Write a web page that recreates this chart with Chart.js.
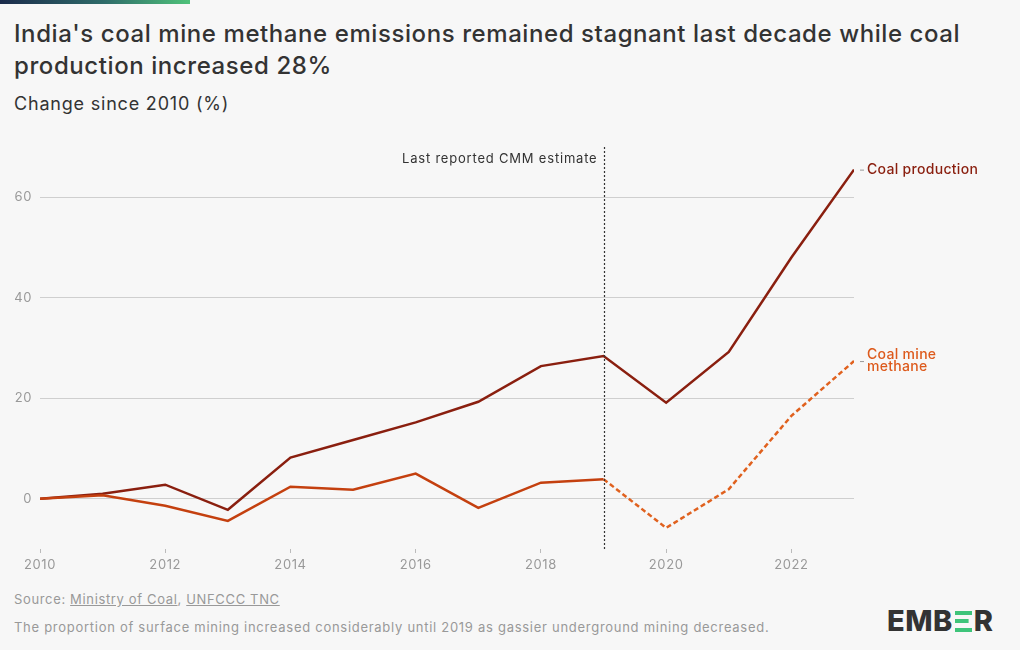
<!DOCTYPE html>
<html lang="en">
<head>
    <meta charset="UTF-8">
    <title>India coal mine methane</title>
    <script src="https://cdn.jsdelivr.net/npm/chart.js"></script>
    <style>
        html, body {
            margin: 0;
            padding: 0;
            background: #f7f7f7;
            font-family: 'Inter', sans-serif;
            color: #333;
        }
        .page {
            position: relative;
            width: 1020px;
            height: 650px;
            overflow: hidden;
        }
        .topbar {
            position: absolute;
            left: 0; top: 0;
            width: 190px; height: 4px;
            background: linear-gradient(90deg, #1b2b4b, #2f6c6a 55%, #4fc27a);
        }
        h1 {
            position: absolute;
            left: 14px; top: 18px;
            margin: 0;
            width: 1000px;
            font-size: 24px;
            line-height: 32px;
            font-weight: 500;
            color: #333;
            letter-spacing: 0.58px;
        }
        .subtitle {
            position: absolute;
            left: 14px; top: 93px;
            font-size: 18px;
            color: #333;
            letter-spacing: 0.8px;
        }
        .chart-box {
            position: absolute;
            left: 0; top: 130px;
            width: 1020px; height: 450px;
        }
        .source {
            position: absolute;
            left: 14px; top: 591px;
            font-size: 13px;
            color: #999;
            letter-spacing: 0.65px;
        }
        .source a { color: #999; text-decoration: underline; }
        .note {
            position: absolute;
            left: 14px; top: 619px;
            font-size: 13px;
            color: #999;
            letter-spacing: 0.72px;
        }
        .logo {
            position: absolute;
            left: 887px; top: 606px;
            font-size: 29px;
            font-weight: 800;
            color: #333;
            line-height: 30px;
            display: flex;
            align-items: center;
            letter-spacing: 0.5px;
        }
        .logo .e {
            display: inline-block;
            width: 17px; height: 21px;
            margin: 0 2px 0 2px;
            background:
                linear-gradient(#3ec47a, #3ec47a) 0 0 / 100% 4px no-repeat,
                linear-gradient(#3ec47a, #3ec47a) 0 8.5px / 80% 4px no-repeat,
                linear-gradient(#3ec47a, #3ec47a) 0 17px / 100% 4px no-repeat;
        }
    </style>
</head>
<body>
<div class="page">
    <div class="topbar"></div>
    <h1>India's coal mine methane emissions remained stagnant last decade while coal production increased 28%</h1>
    <div class="subtitle">Change since 2010 (%)</div>
    <div class="chart-box"><canvas id="chart" width="1020" height="450"></canvas></div>
    <div class="source">Source: <a>Ministry of Coal</a>, <a>UNFCCC TNC</a></div>
    <div class="note">The proportion of surface mining increased considerably until 2019 as gassier underground mining decreased.</div>
    <div class="logo">EMB<span class="e"></span>R</div>
</div>

<script>
    // data
    const years = [2010, 2011, 2012, 2013, 2014, 2015, 2016, 2017, 2018, 2019, 2020, 2021, 2022, 2023];
    const coalProduction = [0, 1.0, 2.8, -2.2, 8.2, 11.7, 15.2, 19.3, 26.4, 28.4, 19.1, 29.2, 48.0, 65.5];
    const mineMethane = [0, 0.7, -1.4, -4.4, 2.4, 1.8, 5.0, -1.8, 3.2, 3.9, -5.8, 1.9, 16.5, 27.4];
    const yTicks = [0, 20, 40, 60];
    const xTicks = [2010, 2012, 2014, 2016, 2018, 2020, 2022];
    const lastReportedYear = 2019;

    const COAL_COLOR = '#8a1f0f';
    const CMM_COLOR = '#c4400f';
    const CMM_EST_COLOR = '#e0611e';
    const CMM_LABEL_COLOR = '#dd5a1c';

    const toPoints = (vals) => vals.map((v, i) => ({ x: years[i], y: v }));

    // wider text spacing on the canvas, like the reference font
    const spacing = {
        id: 'spacing',
        beforeDraw(chart) { chart.ctx.letterSpacing = '0.6px'; }
    };

    // dotted marker line + end labels
    const annotations = {
        id: 'annotations',
        afterDatasetsDraw(chart) {
            const { ctx, chartArea, scales: { x, y } } = chart;
            const px = Math.round(x.getPixelForValue(lastReportedYear)) + 0.5;
            ctx.save();
            ctx.strokeStyle = '#333';
            ctx.lineWidth = 1.2;
            ctx.setLineDash([2, 2]);
            ctx.beginPath();
            ctx.moveTo(px, chartArea.top);
            ctx.lineTo(px, chartArea.bottom);
            ctx.stroke();
            ctx.setLineDash([]);

            ctx.letterSpacing = '0.8px';
            ctx.font = '13px Inter, sans-serif';
            ctx.fillStyle = '#333';
            ctx.textAlign = 'right';
            ctx.textBaseline = 'middle';
            ctx.fillText('Last reported CMM estimate', px - 7, chartArea.top + 12);

            const endX = x.getPixelForValue(years[years.length - 1]);
            const labels = [
                { lines: ['Coal production'], v: coalProduction[coalProduction.length - 1], color: COAL_COLOR },
                { lines: ['Coal mine', 'methane'], v: mineMethane[mineMethane.length - 1], color: CMM_LABEL_COLOR }
            ];
            ctx.textAlign = 'left';
            ctx.letterSpacing = '0.3px';
            labels.forEach(l => {
                const py = y.getPixelForValue(l.v);
                ctx.strokeStyle = '#999';
                ctx.lineWidth = 1;
                ctx.beginPath();
                ctx.moveTo(endX + 6, py + 0.5);
                ctx.lineTo(endX + 10, py + 0.5);
                ctx.stroke();
                ctx.fillStyle = l.color;
                ctx.font = '500 14px Inter, sans-serif';
                const lh = 12;
                const start = py - (l.lines.length - 1) * lh / 2;
                l.lines.forEach((t, i) => ctx.fillText(t, endX + 13, start + i * lh));
            });
            ctx.restore();
        }
    };

    new Chart(document.getElementById('chart'), {
        type: 'line',
        data: {
            datasets: [{
                label: 'Coal mine methane',
                data: toPoints(mineMethane),
                borderColor: CMM_COLOR,
                borderWidth: 2.5,
                pointRadius: 0,
                tension: 0,
                order: 0,
                segment: {
                    borderColor: c => c.p0.parsed.x >= lastReportedYear ? CMM_EST_COLOR : CMM_COLOR,
                    borderDash: c => c.p0.parsed.x >= lastReportedYear ? [5, 3] : undefined
                }
            }, {
                label: 'Coal production',
                data: toPoints(coalProduction),
                borderColor: COAL_COLOR,
                borderWidth: 2.5,
                pointRadius: 0,
                tension: 0,
                order: 1
            }]
        },
        options: {
            responsive: false,
            animation: false,
            layout: { padding: { left: 0, right: 166, top: 17, bottom: 0 } },
            plugins: {
                legend: { display: false },
                tooltip: { enabled: false }
            },
            scales: {
                x: {
                    type: 'linear',
                    min: 2010,
                    max: 2023,
                    afterBuildTicks: s => { s.ticks = xTicks.map(v => ({ value: v })); },
                    afterFit: s => { s.height = 31; },
                    border: { display: false },
                    grid: {
                        drawOnChartArea: false,
                        drawTicks: true,
                        tickLength: 4,
                        tickColor: '#bbb'
                    },
                    ticks: {
                        padding: 4,
                        color: '#999',
                        font: { family: 'Inter', size: 13 },
                        callback: v => String(v)
                    }
                },
                y: {
                    min: -10,
                    max: 70,
                    afterBuildTicks: s => { s.ticks = yTicks.map(v => ({ value: v })); },
                    afterFit: s => { s.width = 40; },
                    border: { display: false },
                    grid: { color: '#cfcfcf', drawTicks: false, lineWidth: 1 },
                    ticks: {
                        padding: 8,
                        color: '#999',
                        font: { family: 'Inter', size: 13 }
                    }
                }
            }
        },
        plugins: [spacing, annotations]
    });
</script>
</body>
</html>
